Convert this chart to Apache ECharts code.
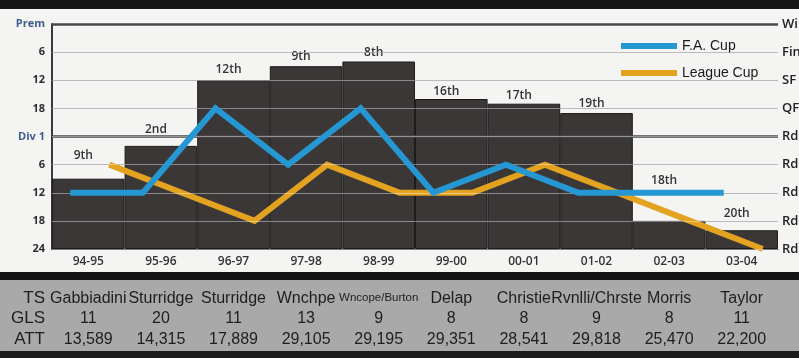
<!DOCTYPE html>
<html>
<head>
<meta charset="utf-8">
<script src="https://cdn.jsdelivr.net/npm/echarts@6/dist/echarts.min.js"></script>
<style>
  html, body { margin: 0; padding: 0; background: #f4f4f3; }
  #chart { width: 799px; height: 358px; }
</style>
</head>
<body>
<div id="chart"></div>
<script>
// seasons and league finish
const seasons = ['94-95', '95-96', '96-97', '97-98', '98-99', '99-00', '00-01', '01-02', '02-03', '03-04'];
const division = ['Div 1', 'Div 1', 'Prem', 'Prem', 'Prem', 'Prem', 'Prem', 'Prem', 'Div 1', 'Div 1'];
const position = [9, 2, 12, 9, 8, 16, 17, 19, 18, 20];

// cup runs (round reached)
const faCup = ['Rd 3', 'Rd 3', 'QF', 'Rd 4', 'QF', 'Rd 3', 'Rd 4', 'Rd 3', 'Rd 3', 'Rd 3'];
const leagueCup = ['Rd 4', 'Rd 3', 'Rd 2', 'Rd 4', 'Rd 3', 'Rd 3', 'Rd 4', 'Rd 3', 'Rd 2', 'Rd 1'];

// axis tick labels, bottom to top
const leftTicks = ['24', '18', '12', '6', 'Div 1', '18', '12', '6', 'Prem'];
const rightTicks = ['Rd 1', 'Rd 2', 'Rd 3', 'Rd 4', 'Rd 5', 'QF', 'SF', 'Final', 'Winners'];

// table under the chart
const topScorer = ['Gabbiadini', 'Sturridge', 'Sturridge', 'Wnchpe', 'Wncope/Burton', 'Delap', 'Christie', 'Rvnlli/Chrste', 'Morris', 'Taylor'];
const goals = [11, 20, 11, 13, 9, 8, 8, 9, 8, 11];
const attendance = [13589, 14315, 17889, 29105, 29195, 29351, 28541, 29818, 25470, 22200];

function ordinal(n) {
    if (n % 100 >= 11 && n % 100 <= 13) return n + 'th';
    return n + (['th', 'st', 'nd', 'rd'][n % 10] || 'th');
}

// league table scale: 24 units per division
const barValues = position.map((p, i) => (division[i] === 'Prem' ? 48 : 24) - p);
const labelLift = [17, 10, 5, 4, 3, 1, 2, 3, 34, 11]; // extra space some labels had in the print

const chart = echarts.init(document.getElementById('chart'));
const labFont = '"Open Sans", sans-serif';
const tblFont = '"Liberation Sans", Arial, sans-serif';

const grids = [
    { left: 52, right: 21, top: 24, bottom: 109, outerBoundsMode: 'none' },
    { left: 34, right: 39, top: 24, bottom: 109, outerBoundsMode: 'none' },  // F.A. Cup line sits a bit left
    { left: 73, right: 0, top: 24, bottom: 109, outerBoundsMode: 'none' }    // League Cup line sits a bit right
];

const option = {
    backgroundColor: '#f4f4f3',
    animation: false,
    grid: grids,
    legend: {
        data: ['F.A. Cup', 'League Cup'],
        orient: 'vertical',
        left: 616,
        top: 33,
        icon: 'rect',
        itemWidth: 56,
        itemHeight: 6,
        itemGap: 11,
        textStyle: { fontFamily: tblFont, fontSize: 14, color: '#1a1a1a', lineHeight: 16 }
    },
    xAxis: [
        {
            type: 'category', gridIndex: 0, data: seasons,
            axisLine: { lineStyle: { color: '#2a2a2a', width: 1 } },
            axisTick: { show: false },
            axisLabel: { margin: 7, fontFamily: labFont, fontWeight: 600, fontSize: 12, color: '#333' }
        },
        {
            type: 'category', gridIndex: 0, data: seasons, position: 'bottom', offset: 31, z: 10,
            axisLine: { show: false }, axisTick: { show: false },
            axisLabel: {
                margin: 8, interval: 0,
                formatter: (v, i) => '{' + (topScorer[i].indexOf('Burton') >= 0 ? 's' : 'n') + '|' + topScorer[i] + '}\n{n|' + goals[i] + '}\n{n|' + attendance[i].toLocaleString('en-US') + '}',
                rich: {
                    n: { fontFamily: tblFont, fontSize: 16, color: '#1e1e1e', lineHeight: 20.5 },
                    s: { fontFamily: tblFont, fontSize: 11.5, color: '#1e1e1e', lineHeight: 20.5 }
                }
            }
        },
        { type: 'category', gridIndex: 1, data: seasons, show: false },
        { type: 'category', gridIndex: 2, data: seasons, show: false }
    ],
    yAxis: [
        {
            type: 'value', gridIndex: 0, min: 0, max: 48, interval: 6,
            axisLine: { show: true, lineStyle: { color: '#3a3a3a', width: 2 } },
            axisTick: { show: false },
            splitLine: { lineStyle: { color: '#8c8c8c', width: 1 } },
            axisLabel: {
                margin: 7,
                formatter: v => {
                    const t = leftTicks[v / 6];
                    return isNaN(+t) ? '{d|' + t + '}' : '{n|' + t + '}';
                },
                rich: {
                    d: { fontFamily: labFont, fontWeight: 700, fontSize: 11, color: '#3d5d8f' },
                    n: { fontFamily: labFont, fontWeight: 700, fontSize: 11, color: '#2e2e2e' }
                }
            }
        },
        {
            type: 'value', gridIndex: 0, position: 'right', min: 0, max: 8, interval: 1,
            axisLine: { show: false }, axisTick: { show: false }, splitLine: { show: false },
            axisLabel: {
                margin: 4, formatter: v => rightTicks[v],
                fontFamily: labFont, fontWeight: 600, fontSize: 13, color: '#222'
            }
        },
        { type: 'value', gridIndex: 1, min: 0, max: 8, show: false },
        { type: 'value', gridIndex: 2, min: 0, max: 8, show: false }
    ],
    series: [
        {
            // dark rules for Prem / Div 1, under the bars
            type: 'line', xAxisIndex: 0, yAxisIndex: 0, data: [], z: 1, silent: true,
            markLine: {
                symbol: 'none', silent: true, label: { show: false },
                lineStyle: { color: '#4a4a4a', width: 2.5, type: 'solid' },
                data: [{ yAxis: 24 }, { yAxis: 48 }]
            }
        },
        {
            type: 'bar', xAxisIndex: 0, yAxisIndex: 0, z: 2,
            data: barValues.map((v, i) => ({
                value: v,
                label: { distance: labelLift[i] }
            })),
            barCategoryGap: '0%',
            itemStyle: { color: '#3b3737', borderColor: '#1d1a1a', borderWidth: 1 },
            label: {
                show: true, position: 'top', offset: [-5, 0],
                formatter: p => ordinal(position[p.dataIndex]),
                fontFamily: labFont, fontWeight: 600, fontSize: 12, color: '#333'
            }
        },
        {
            // grid rules show through the bars as light lines
            type: 'line', xAxisIndex: 0, yAxisIndex: 0, data: [], z: 3, silent: true,
            markLine: {
                symbol: 'none', silent: true, label: { show: false },
                lineStyle: { color: 'rgba(255,255,255,0.4)', width: 1, type: 'solid' },
                data: leftTicks.slice(0, 8).map((t, i) => ({ yAxis: i * 6 }))
            }
        },
        {
            name: 'F.A. Cup', type: 'line', xAxisIndex: 2, yAxisIndex: 2, z: 5,
            data: faCup.map(r => rightTicks.indexOf(r)),
            symbol: 'none',
            itemStyle: { color: '#2598d4' },
            lineStyle: { color: '#2598d4', width: 6, join: 'miter' }
        },
        {
            name: 'League Cup', type: 'line', xAxisIndex: 3, yAxisIndex: 3, z: 4,
            data: leagueCup.map(r => rightTicks.indexOf(r)),
            symbol: 'none',
            itemStyle: { color: '#e3a320' },
            lineStyle: { color: '#e3a320', width: 6, join: 'miter' }
        }
    ],
    graphic: [
        { type: 'rect', z: -1, shape: { x: 0, y: 0, width: 799, height: 9 }, style: { fill: '#161616' } },
        { type: 'rect', z: -1, shape: { x: 0, y: 272, width: 799, height: 8 }, style: { fill: '#141414' } },
        { type: 'rect', z: -1, shape: { x: 0, y: 280, width: 799, height: 71 }, style: { fill: '#a9a9a9' } },
        { type: 'rect', z: -1, shape: { x: 0, y: 351, width: 799, height: 7 }, style: { fill: '#1c1c1c' } },
        { type: 'text', z: 10, style: { x: 45, y: 298, text: 'TS', align: 'right', verticalAlign: 'middle', font: '17px "Liberation Sans", sans-serif', fill: '#1e1e1e' } },
        { type: 'text', z: 10, style: { x: 45, y: 318, text: 'GLS', align: 'right', verticalAlign: 'middle', font: '17px "Liberation Sans", sans-serif', fill: '#1e1e1e' } },
        { type: 'text', z: 10, style: { x: 45, y: 339, text: 'ATT', align: 'right', verticalAlign: 'middle', font: '17px "Liberation Sans", sans-serif', fill: '#1e1e1e' } }
    ]
};

chart.setOption(option);
</script>
</body>
</html>
